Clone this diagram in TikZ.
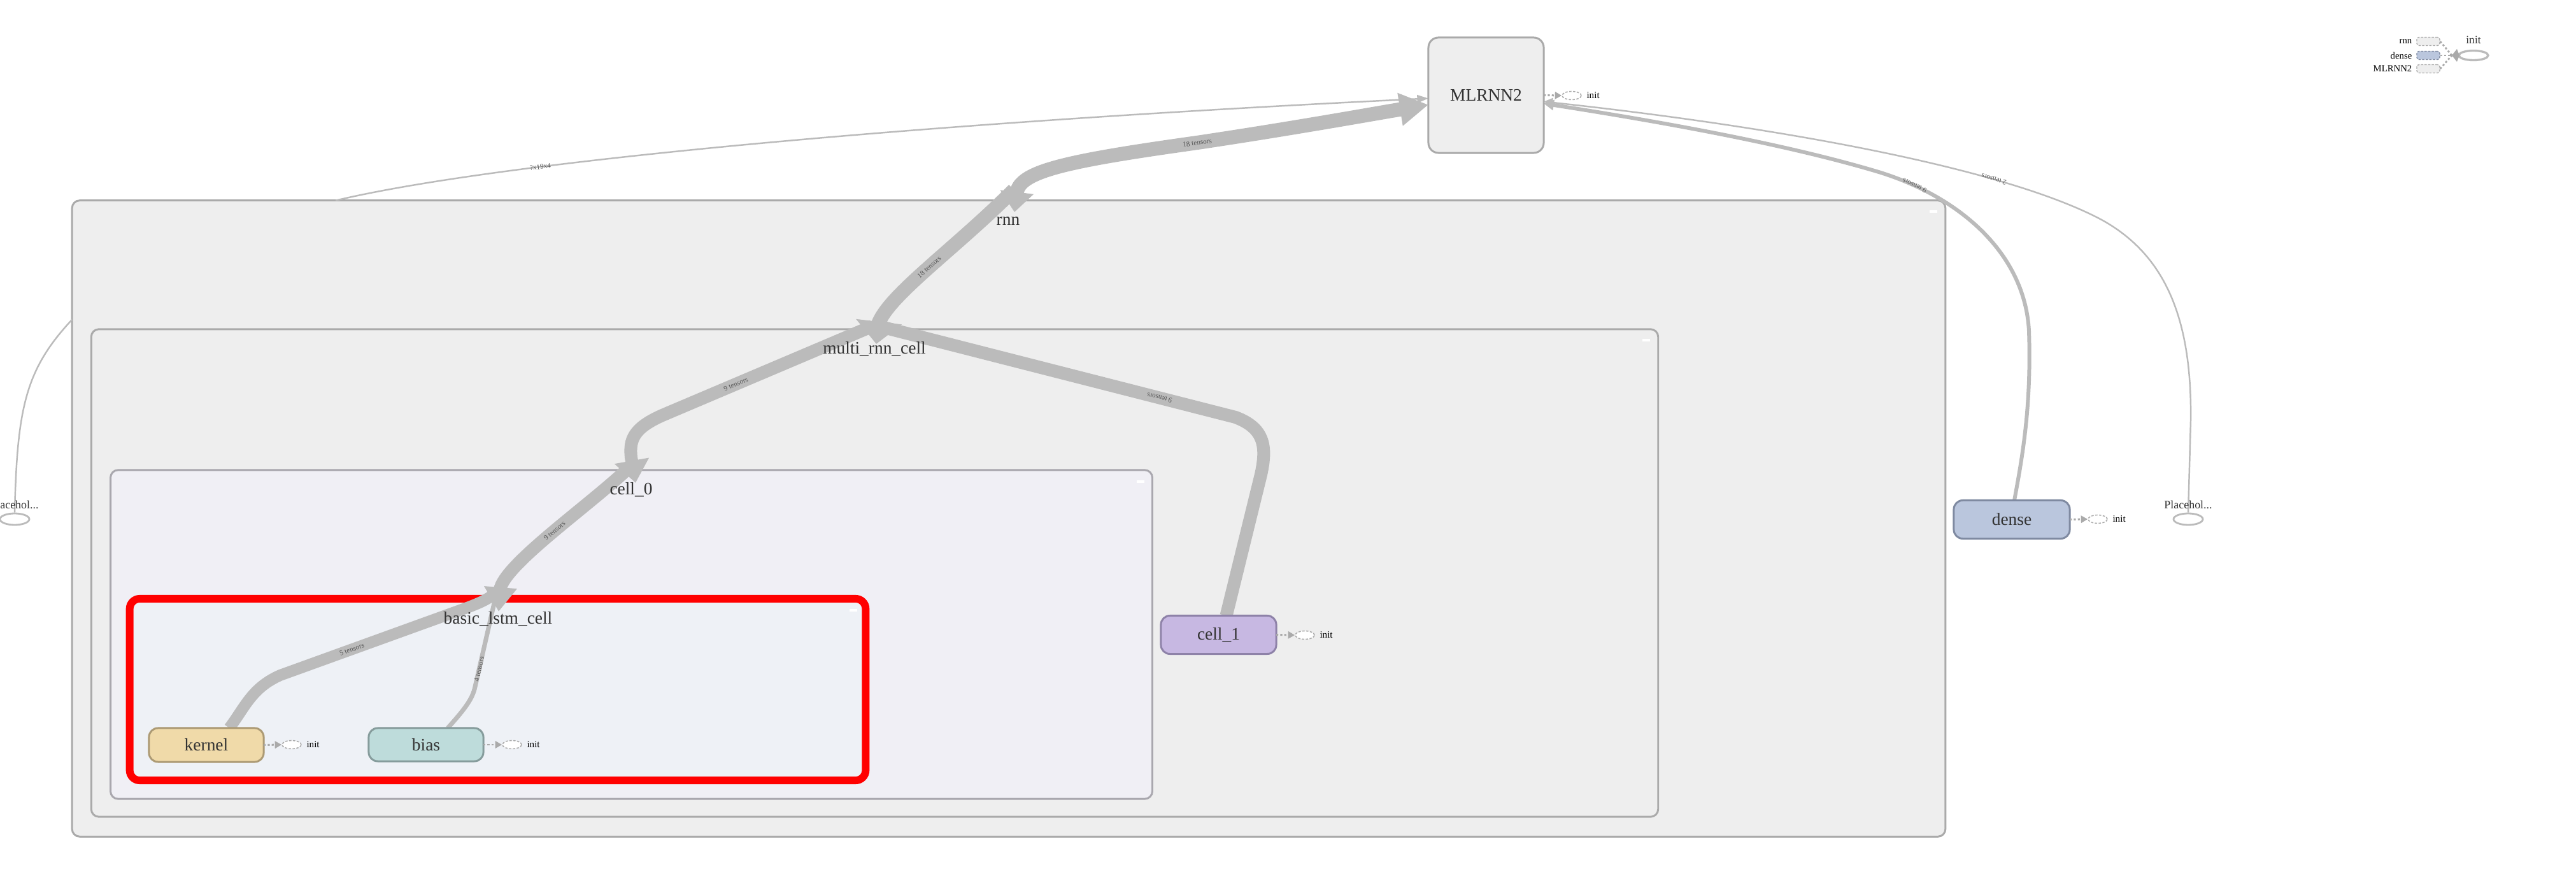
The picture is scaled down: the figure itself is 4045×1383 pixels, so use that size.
\documentclass[tikz,border=0pt]{standalone}
\usepackage{fontspec}
\setmainfont{Liberation Serif}
\usetikzlibrary{arrows.meta,shapes.geometric,calc}
\pgfdeclarelayer{bg}
\pgfdeclarelayer{wires}
\pgfsetlayers{bg,wires,main}

\definecolor{grpfill}{HTML}{EEEEEE}
\definecolor{grpline}{HTML}{AAAAAA}
\definecolor{cellfill}{HTML}{F0EFF5}
\definecolor{cellline}{HTML}{A9A7AE}
\definecolor{lstmfill}{HTML}{EEF1F6}
\definecolor{flowcol}{HTML}{BBBBBB}
\definecolor{labtext}{HTML}{333333}
\definecolor{edgetext}{HTML}{555555}
\definecolor{kernfill}{HTML}{F0DAA9}
\definecolor{kernline}{HTML}{AC9A74}
\definecolor{biasfill}{HTML}{BEDCDB}
\definecolor{biasline}{HTML}{869C9C}
\definecolor{cellonefill}{HTML}{C7B8E2}
\definecolor{celloneline}{HTML}{8E82A8}
\definecolor{densefill}{HTML}{BAC6DD}
\definecolor{denseline}{HTML}{7F8AA1}
\definecolor{initline}{HTML}{AAAAAA}
\definecolor{redframe}{HTML}{FF0000}

\newcommand\lblfont{\fontsize{7.8}{9}\selectfont}
\newcommand\initfont{\fontsize{4.3}{5}\selectfont}
\newcommand\edgefont{\fontsize{3.2}{3.6}\selectfont}
\newcommand\legfont{\fontsize{4.2}{5}\selectfont}
\newcommand\phfont{\fontsize{5.1}{6}\selectfont}

\begin{document}
\begin{tikzpicture}[x=0.01cm,y=-0.01cm,
  grp/.style={draw=grpline, line width=0.85pt, rounded corners=3.4pt, inner sep=0, outer sep=0},
  glabel/.style={inner sep=0, text=labtext, font=\lblfont},
  op/.style={line width=0.85pt, rounded corners=4pt, inner sep=0, outer sep=0, text=labtext, font=\lblfont},
  flow/.style={draw=flowcol, line cap=butt},
  elabel/.style={font=\edgefont, text=edgetext, inner sep=0, sloped, allow upside down},
  initnode/.style={ellipse, draw=initline, dash pattern=on 1pt off 0.7pt, fill=white, line width=0.45pt, minimum width=0.30cm, minimum height=0.13cm, inner sep=0},
  initlbl/.style={font=\initfont, inner sep=0, anchor=west},
  initarrow/.style={draw=initline, line width=0.85pt, dash pattern=on 0.9pt off 0.9pt, -{Triangle[length=3pt,width=3.2pt]}},
  phnode/.style={ellipse, draw=flowcol, line width=0.8pt, fill=white, minimum width=0.46cm, minimum height=0.18cm, inner sep=0},
  phlbl/.style={font=\phfont, text=labtext, inner sep=0},
  leglbl/.style={font=\legfont, inner sep=0, anchor=east},
  legbox/.style={draw=initline, line width=0.4pt, dash pattern=on 1pt off 0.6pt, rounded corners=1pt, minimum width=0.36cm, minimum height=0.13cm, inner sep=0},
  legline/.style={draw=initline, line width=0.8pt, dash pattern=on 0.9pt off 0.9pt},
  knob/.style={fill=white, draw=none}
]
\useasboundingbox (0,0) rectangle (4045,1383);

% ---------- nested groups ----------
\begin{pgfonlayer}{bg}
\fill[white] (0,0) rectangle (4045,1383);
\node[grp, fill=grpfill, minimum width=29.40cm, minimum height=9.98cm] (rnn) at (1584,814) {};
\node[grp, fill=grpfill, minimum width=24.59cm, minimum height=7.65cm] (mrc) at (1373.5,899.5) {};
\node[grp, draw=cellline, fill=cellfill, minimum width=16.35cm, minimum height=5.16cm] (cell0) at (991.5,996) {};
\node[grp, draw=redframe, line width=3.4pt, fill=lstmfill, rounded corners=4.5pt, minimum width=11.55cm, minimum height=2.85cm] (blc) at (781.5,1082.5) {};

% collapse knobs
\fill[knob] (3030,330) rectangle (3042,334);
\fill[knob] (2579,532) rectangle (2591,536);
\fill[knob] (1785,754) rectangle (1797,758);
\fill[knob] (1334,956) rectangle (1346,960);
\end{pgfonlayer}

% group titles
\node[glabel] (rnnlbl) at (1583,347) {rnn};
\node[glabel] (mrclbl) at (1373,548) {multi\_rnn\_cell};
\node[glabel] (cell0lbl) at (991,769) {cell\_0};
\node[glabel] (blclbl) at (782,972) {basic\_lstm\_cell};

% ---------- operation nodes ----------
\node[op, draw=grpline, fill=grpfill, rounded corners=4.5pt, minimum width=1.81cm, minimum height=1.81cm] (MLRNN2) at (2333.5,149.5) {MLRNN2};
\node[op, draw=kernline, fill=kernfill, minimum width=1.80cm, minimum height=0.53cm] (kernel) at (324,1169.5) {kernel};
\node[op, draw=biasline, fill=biasfill, minimum width=1.80cm, minimum height=0.52cm] (bias) at (669,1169) {bias};
\node[op, draw=celloneline, fill=cellonefill, minimum width=1.81cm, minimum height=0.60cm] (cell1) at (1913.5,996.5) {cell\_1};
\node[op, draw=denseline, fill=densefill, minimum width=1.82cm, minimum height=0.60cm] (dense) at (3159,815.5) {dense};

% init attachments
\node[initnode] (mlinit) at (2468,150) {};
\node[initlbl] (mlinitl) at ($(mlinit.east)+(7,0)$) {init};
\node[initnode] (kinit) at (458,1169) {};
\node[initlbl] (kinitl) at ($(kinit.east)+(7,0)$) {init};
\node[initnode] (binit) at (804,1169) {};
\node[initlbl] (binitl) at ($(binit.east)+(7,0)$) {init};
\node[initnode] (cinit) at (2049,997) {};
\node[initlbl] (cinitl) at ($(cinit.east)+(7,0)$) {init};
\node[initnode] (dinit) at (3294,815) {};
\node[initlbl] (dinitl) at ($(dinit.east)+(7,0)$) {init};
\draw[initarrow] (MLRNN2.east) -- (mlinit.west);
\draw[initarrow] (kernel.east) -- (kinit.west);
\draw[initarrow] (bias.east) -- (binit.west);
\draw[initarrow] (cell1.east) -- (cinit.west);
\draw[initarrow] (dense.east) -- (dinit.west);

% placeholders
\node[phnode] (phL) at (23,815) {};
\node[phlbl] (phLl) at (23,792) {Placehol...};
\node[phnode] (phR) at (3436,815) {};
\node[phlbl] (phRl) at (3436,792) {Placehol...};

% legend
\node[leglbl] (lgrnnl) at (3788,65) {rnn};
\node[legbox, fill=grpfill] (lgrnn) at (3813,65) {};
\node[leglbl] (lgdensel) at (3788,87) {dense};
\node[legbox, fill=densefill, draw=denseline] (lgdense) at (3813,87) {};
\node[leglbl] (lgmlrl) at (3788,108) {MLRNN2};
\node[legbox, fill=grpfill] (lgmlr) at (3813,108) {};
\coordinate (lgjoin) at (3850,87);
\node[ellipse, draw=flowcol, line width=0.95pt, fill=white, minimum width=0.46cm, minimum height=0.15cm, inner sep=0] (lginit) at (3884,87) {};
\node[inner sep=0, text=labtext, font=\fontsize{5}{6}\selectfont] (lginitl) at (3884,63) {init};
\draw[legline] (lgrnn.east) -- (lgjoin);
\draw[legline] (lgdense.east) -- (lgjoin);
\draw[legline] (lgmlr.east) -- (lgjoin);
\fill[initline] (lgjoin) -- ++(8,-10) -- ++(4,10) -- ++(-4,10) -- cycle;

% arrow tips at group labels
\coordinate (rnntip) at (1593,333);
\coordinate (mrctip) at (1376,540);
\coordinate (c0tip) at (998,758);
\coordinate (blctip) at (783,960);

% ---------- data flow ----------
\begin{pgfonlayer}{wires}
% placeholder into rnn
\draw[flow, line width=0.7pt] (phL.north) .. controls (27,640) and (40,580) .. ($(rnn.north west)+(0,187)$);
% rnn -> MLRNN2 (thin)
\draw[flow, line width=0.7pt, -{Triangle[length=5pt,width=3.5pt]}] ($(rnn.north west)+(414,0)$) .. controls (800,250) and (1500,190) .. ($(MLRNN2.west)+(0,5)$) node[elabel, pos=0.28] {?x19x4};
% rnn -> MLRNN2 (thick)
\draw[flow, line width=6.3pt, {Triangle[length=9pt,width=14.5pt]}-{Triangle[length=12.8pt,width=14pt]}] (rnntip) -- (1597,300) .. controls (1605,268) and (1680,252) .. (1880,224) node[elabel, pos=1] {18 tensors} .. controls (2040,200) and (2160,178) .. ($(MLRNN2.west)+(0,15)$);
% multi_rnn_cell -> rnn
\draw[flow, line width=6.3pt, {Triangle[length=10pt,width=20pt]}-] (mrctip) -- (1380,506) .. controls (1400,460) and (1500,390) .. (1592,298) node[elabel, pos=0.5] {18 tensors};
% cell_0 -> multi_rnn_cell
\draw[flow, line width=5.7pt, {Triangle[length=10pt,width=15pt]}-] (c0tip) -- (991,718) .. controls (988,690) and (995,672) .. (1040,652) -- (1370,512) node[elabel, pos=0.35] {9 tensors};
% cell_1 -> multi_rnn_cell
\draw[flow, line width=5.7pt] ($(cell1.north)+(12,0)$) -- (1980,745) .. controls (1990,700) and (1985,672) .. (1940,655) -- (1372,510) node[elabel, pos=0.21] {9 tensors};
% basic_lstm_cell -> cell_0
\draw[flow, line width=5.7pt, {Triangle[length=10.8pt,width=14pt]}-] (blctip) -- (786,922) .. controls (800,880) and (930,790) .. (990,732) node[elabel, pos=0.5] {9 tensors};
% kernel -> basic_lstm_cell
\draw[flow, line width=5.1pt] ($(kernel.north)+(36,0)$) .. controls (385,1110) and (395,1080) .. (440,1060) -- (736,953) node[elabel, pos=0.38] {5 tensors} .. controls (760,944) and (775,936) .. (787,922);
% bias -> basic_lstm_cell
\draw[flow, line width=2pt] ($(bias.north)+(34,0)$) .. controls (728,1115) and (742,1098) .. (746,1078) -- (781,925) node[elabel, pos=0.18] {4 tensors};
% dense -> MLRNN2
\draw[flow, line width=1.7pt, -{Triangle[length=4.5pt,width=4.5pt]}] ($(dense.north)+(4,0)$) .. controls (3175,720) and (3190,640) .. (3186,520) .. controls (3180,400) and (3080,310) .. (2950,270) node[elabel, pos=0.85] {9 tensors} .. controls (2800,225) and (2600,190) .. ($(MLRNN2.east)+(0,13)$);
% placeholder -> MLRNN2
\draw[flow, line width=0.7pt, -{Triangle[length=4pt,width=4pt]}] (phR.north) -- (3440,660) .. controls (3442,500) and (3400,400) .. (3300,345) .. controls (3150,265) and (2800,200) .. ($(MLRNN2.east)+(0,10)$) node[elabel, pos=0.28] {2 tensors};
\end{pgfonlayer}
\end{tikzpicture}
\end{document}
